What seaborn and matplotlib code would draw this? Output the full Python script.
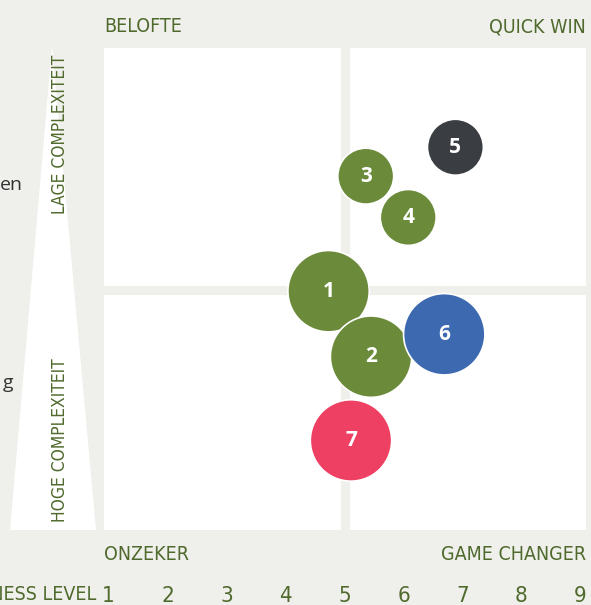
import pandas as pd
import numpy as np
import matplotlib.pyplot as plt
import seaborn as sns
from matplotlib.patches import Polygon
from matplotlib import font_manager as fm

# Kleuren
BG = '#efefeb'
TEKST_GROEN = '#4f6a2c'
KLEUREN = {
    'groen': '#6b8b3a',
    'donker': '#3a3d41',
    'blauw': '#3d69b1',
    'rood': '#ee4062',
}

# Data
nummers = ['1', '2', '3', '4', '5', '6', '7']
readiness = [4.73, 5.45, 5.36, 6.08, 6.88, 6.69, 5.11]
complexiteit = [4.98, 3.87, 6.93, 6.23, 7.42, 4.25, 2.45]
categorie = ['groen', 'groen', 'groen', 'groen', 'donker', 'blauw', 'rood']
impact = ['groot', 'groot', 'klein', 'klein', 'klein', 'groot', 'groot']
x_ticks = [1, 2, 3, 4, 5, 6, 7, 8, 9]

df = pd.DataFrame({
    'nummer': nummers,
    'readiness': readiness,
    'complexiteit': complexiteit,
    'categorie': categorie,
    'impact': impact,
})

sns.set_theme(style='white')
plt.rcParams['font.family'] = ['Open Sans', 'DejaVu Sans']

# Smal, rechtop lettertype zoeken voor de koppen (als het er is)
def gewicht(w):
    namen = {'light': 300, 'normal': 400, 'regular': 400, 'medium': 500,
             'semibold': 600, 'bold': 700}
    return w if isinstance(w, (int, float)) else namen.get(w, 400)

smal = [f for f in fm.fontManager.ttflist
        if f.stretch in ('condensed', 'extra-condensed', 'ultra-condensed', 'semi-condensed')
        and f.style == 'normal'
        and 'Mono' not in f.name and 'Serif' not in f.name]
smal.sort(key=lambda f: (f.stretch not in ('extra-condensed', 'ultra-condensed'),
                         abs(gewicht(f.weight) - 450)))
if smal:
    KOP_FONT = fm.FontProperties(fname=smal[0].fname)
else:
    KOP_FONT = fm.FontProperties(family='DejaVu Sans')

W, H = 591, 605
fig = plt.figure(figsize=(W / 100, H / 100), dpi=100, facecolor=BG)

def px(x, y):
    # pixel -> figuurcoördinaten
    return x / W, 1 - y / H

# Wig links (complexiteit)
wig = Polygon([px(52, 46), px(96, 530), px(10, 530)], closed=True,
              transform=fig.transFigure, facecolor='white', edgecolor='none', zorder=0)
fig.patches.append(wig)

ax = fig.add_axes([104 / W, 1 - 530 / H, 482 / W, 482 / H])
ax.set_facecolor('white')

sns.scatterplot(data=df, x='readiness', y='complexiteit', hue='categorie',
                palette=KLEUREN, size='impact', sizes={'klein': 1620, 'groot': 3430},
                edgecolor='white', linewidth=1.2, legend=False, ax=ax, zorder=3)

for _, r in df.iterrows():
    ax.text(r['readiness'], r['complexiteit'], r['nummer'], color='white',
            ha='center', va='center', fontsize=15, fontweight='bold', zorder=4)

# Kwadrantlijnen
ax.axvline(5, color=BG, linewidth=6.5, zorder=1)
ax.axhline(5, color=BG, linewidth=6.5, zorder=1)

ax.set_xlim(1 - 4.5 / 59, 1 - 4.5 / 59 + 482 / 59)
ax.set_ylim(5 - 240 / 59, 5 + 242 / 59)
ax.set_xticks(x_ticks)
ax.set_xticklabels([str(t) for t in x_ticks], color=TEKST_GROEN,
                   fontproperties=KOP_FONT, fontsize=16)
ax.tick_params(axis='x', length=0, pad=40)
ax.set_yticks([])
ax.set_xlabel('')
ax.set_ylabel('')
for s in ax.spines.values():
    s.set_visible(False)

def kop(x, y, tekst, ha='left', va='center', rot=0, size=14):
    fx, fy = px(x, y)
    fig.text(fx, fy, tekst, ha=ha, va=va, rotation=rot, fontproperties=KOP_FONT,
             fontsize=size, color=TEKST_GROEN)

kop(104, 27, 'BELOFTE')
kop(586, 27, 'QUICK WIN', ha='right')
kop(104, 555, 'ONZEKER')
kop(586, 555, 'GAME CHANGER', ha='right')
kop(96, 594, 'READYNESS LEVEL', ha='right')
kop(51, 55, 'LAGE COMPLEXITEIT', va='top', rot=90, size=12.5)
kop(51, 522, 'HOGE COMPLEXITEIT', va='bottom', rot=90, size=12.5)

# Afgesneden tekst links
fx, fy = px(23, 185)
fig.text(fx, fy, 'en', ha='right', va='center', fontsize=14, color='#333333')
fx, fy = px(13, 383)
fig.text(fx, fy, 'g', ha='right', va='center', fontsize=14, color='#333333')

plt.savefig('out.png', dpi=100, facecolor=BG)
plt.close()
